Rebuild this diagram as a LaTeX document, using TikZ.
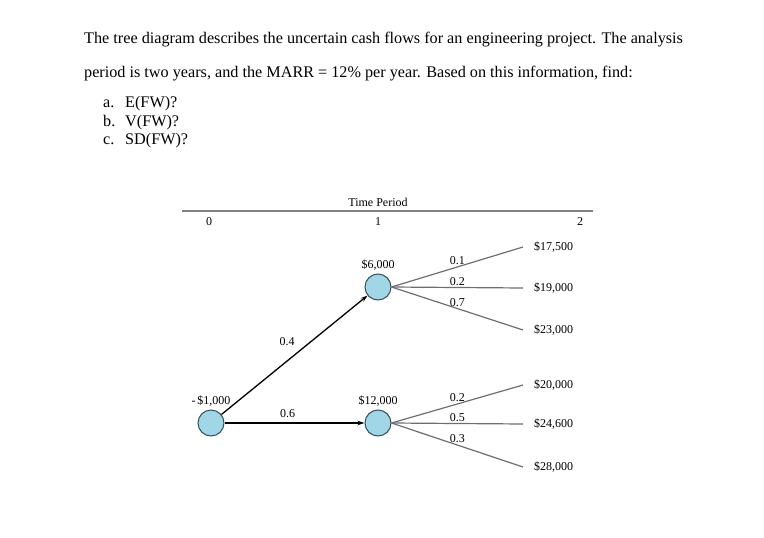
\documentclass[tikz,border=0pt]{standalone}
\usepackage{fontspec}
\setmainfont{Liberation Serif}
\usetikzlibrary{positioning,arrows.meta}

\definecolor{chancefill}{RGB}{160,214,230}
\definecolor{chanceline}{RGB}{55,80,90}
\definecolor{branchgray}{RGB}{110,110,110}

\tikzset{
  chance/.style={circle, draw=chanceline, fill=chancefill, line width=1pt, minimum size=26pt, inner sep=0pt},
  cash/.style={font=\fontsize{12}{14}\selectfont, inner sep=2pt},
  prob/.style={font=\fontsize{12}{14}\selectfont, inner sep=1.5pt},
  arc/.style={line width=1.3pt, -{Stealth[length=7pt,width=4.5pt]}},
  branch/.style={draw=branchgray, line width=1.2pt},
  question/.style={font=\fontsize{16.2}{19}\selectfont, anchor=base west, inner sep=0pt},
}

\begin{document}
\begin{tikzpicture}[x=1pt, y=-1pt]
\useasboundingbox (0,0) rectangle (764,538);

% statement
\node[question] (line1) at (84,43) {The tree diagram describes the uncertain cash flows for an engineering project. The analysis};
\node[question] (line2) at (84,77) {period is two years, and the MARR = 12\% per year. Based on this information, find:};
\foreach \lab/\txt/\y in {a/E(FW)?/107, b/V(FW)?/126, c/SD(FW)?/144} {
  \node[question] (lab\lab) at (103,\y) {\lab.};
  \node[question] (item\lab) at (125,\y) {\txt};
}

% time axis
\node[cash] (period) at (378,202) {Time Period};
\coordinate (axisL) at (182,211);
\coordinate (axisR) at (593,211);
\draw[draw=gray, line width=1.5pt] (axisL) -- (axisR);
\node[cash] (t0) at (209,222) {0};
\node[cash] (t1) at (378,222) {1};
\node[cash] (t2) at (580,222) {2};

% chance nodes
\node[chance] (root) at (211,423) {};
\node[chance, on grid, above right=136pt and 167pt of root] (up) {};
\node[chance, on grid, right=167pt of root] (low) {};
\node[cash, above=1pt of root] (rootval) {-\,\$1,000};
\node[cash, above=1pt of up] (upval) {\$6,000};
\node[cash, above=1pt of low] (lowval) {\$12,000};

\draw[arc] (root) -- node[prob, pos=0.45, above=13pt] (p04) {0.4} (up);
\draw[arc] (root) -- node[prob, pos=0.45, above=3pt] (p06) {0.6} (low);

% outcomes after period 1
\coordinate (ua) at (523,247);
\coordinate (ub) at (523,288);
\coordinate (uc) at (523,330);
\coordinate (la) at (523,385);
\coordinate (lb) at (523,424);
\coordinate (lc) at (523,467);

\draw[branch] (up.east) -- node[prob, above] (pua) {0.1} (ua);
\draw[branch] (up.east) -- node[prob, above] (pub) {0.2} (ub);
\draw[branch] (up.east) -- node[prob, above] (puc) {0.7} (uc);
\draw[branch] (low.east) -- node[prob, above] (pla) {0.2} (la);
\draw[branch] (low.east) -- node[prob, above] (plb) {0.5} (lb);
\draw[branch] (low.east) -- node[prob, above] (plc) {0.3} (lc);

\node[cash, right=9pt of ua] (va) {\$17,500};
\node[cash, right=9pt of ub] (vb) {\$19,000};
\node[cash, right=9pt of uc] (vc) {\$23,000};
\node[cash, right=9pt of la] (vd) {\$20,000};
\node[cash, right=9pt of lb] (ve) {\$24,600};
\node[cash, right=9pt of lc] (vf) {\$28,000};
\end{tikzpicture}
\end{document}
